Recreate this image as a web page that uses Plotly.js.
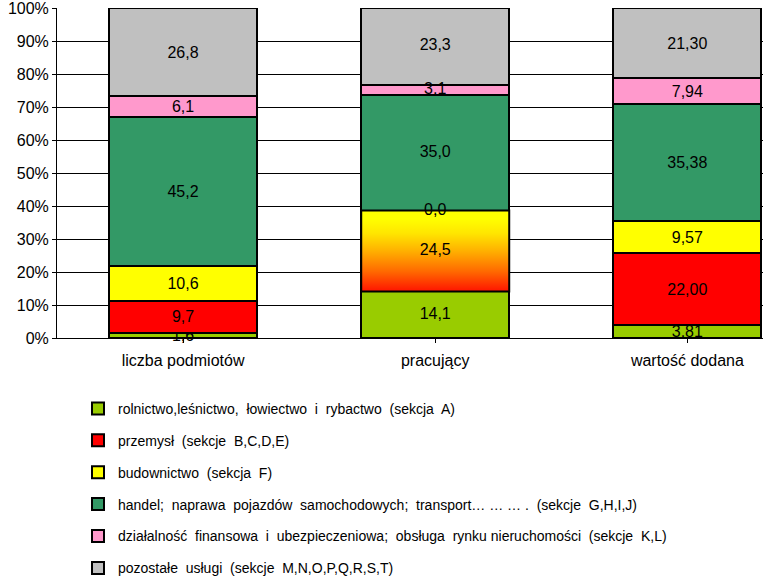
<!DOCTYPE html>
<html>
<head>
<meta charset="utf-8">
<script src="https://cdn.plot.ly/plotly-3.0.1.min.js"></script>
<style>html,body{margin:0;padding:0;background:#fff;}#chart{width:763px;height:576px;}</style>
</head>
<body>
<div id="chart"></div>
<script>
// ---- data ----
const categories = ['liczba podmiotów', 'pracujący', 'wartość dodana'];
const seriesNames = [
  'rolnictwo,leśnictwo,\u00a0 łowiectwo\u00a0 i\u00a0 rybactwo\u00a0 (sekcja\u00a0 A)',
  'przemysł\u00a0 (sekcje\u00a0 B,C,D,E)',
  'budownictwo\u00a0 (sekcja\u00a0 F)',
  'handel;\u00a0 naprawa\u00a0 pojazdów\u00a0 samochodowych;\u00a0 transport… … … .\u00a0 (sekcje\u00a0 G,H,I,J)',
  'działalność\u00a0 finansowa\u00a0 i\u00a0 ubezpieczeniowa;\u00a0 obsługa\u00a0 rynku nieruchomości\u00a0 (sekcje\u00a0 K,L)',
  'pozostałe\u00a0 usługi\u00a0 (sekcje\u00a0 M,N,O,P,Q,R,S,T)'
];
const rolnictwo   = [1.6, 14.1, 3.81];
const przemysl    = [9.7, 24.5, 22.00];
const budownictwo = [10.6, 0.0, 9.57];
const handel      = [45.2, 35.0, 35.38];
const finanse     = [6.1, 3.1, 7.94];
const pozostale   = [26.8, 23.3, 21.30];
const labelDecimals = [1, 1, 2];
const yTickValues = [0, 10, 20, 30, 40, 50, 60, 70, 80, 90, 100];

// ---- styles ----
const colors = ['#99CC00', '#FF0000', '#FFFF00', '#339966', '#FF99CC', '#C0C0C0'];
const gradientSeries = 1;      // przemysł
const gradientCategory = 1;    // pracujący (drawn with a yellow-red gradient)
const gradientScale = [[0, '#ff1400'], [0.25, '#ff6a00'], [0.5, '#ffb000'], [0.72, '#ffe600'], [0.9, '#ffff00'], [1, '#ffff00']];
const barWidth = 0.587;
const FONT = 'Arial, "Liberation Sans", sans-serif';
const labelFont = {family: FONT, size: 16, color: '#000'};

const seriesValues = [rolnictwo, przemysl, budownictwo, handel, finanse, pozostale];
const fmt = (v, c) => v.toFixed(labelDecimals[c]).replace('.', ',');

const traces = [];
seriesValues.forEach((vals, s) => {
  traces.push({
    type: 'bar',
    name: seriesNames[s],
    legendgroup: 'g' + s,
    x: categories.map((_, i) => i),
    y: vals,
    width: barWidth,
    marker: {color: colors[s], line: {color: '#000', width: 2}},
    text: vals.map((v, c) => (c === gradientCategory ? '' : fmt(v, c))),
    textposition: 'inside',
    insidetextanchor: 'middle',
    insidetextfont: labelFont,
    textangle: 0,
    hoverinfo: 'skip',
    cliponaxis: false
  });
});

// gradient overlay for the pracujący/przemysł cell, built from the data
const cum = (s, c) => seriesValues.slice(0, s).reduce((a, arr) => a + arr[c], 0);
const gBottom = cum(gradientSeries, gradientCategory);
const gTop = gBottom + seriesValues[gradientSeries][gradientCategory];
const gx0 = gradientCategory - barWidth / 2, gx1 = gradientCategory + barWidth / 2;
traces.push({
  type: 'scatter',
  mode: 'lines',
  x: [gx0, gx1, gx1, gx0, gx0],
  y: [gBottom, gBottom, gTop, gTop, gBottom],
  fill: 'toself',
  fillgradient: {type: 'vertical', colorscale: gradientScale, start: gBottom, stop: gTop},
  line: {color: '#000', width: 2},
  showlegend: false,
  hoverinfo: 'skip'
});
// labels for the pracujący column (drawn above the gradient)
const colLabelsY = [], colLabelsT = [], colLabelsX = [];
seriesValues.forEach((vals, s) => {
  const b = cum(s, gradientCategory);
  colLabelsX.push(gradientCategory);
  colLabelsY.push(b + vals[gradientCategory] / 2);
  colLabelsT.push(fmt(vals[gradientCategory], gradientCategory));
});
traces.push({
  type: 'scatter',
  mode: 'text',
  x: colLabelsX,
  y: colLabelsY,
  text: colLabelsT,
  textposition: 'middle center',
  textfont: labelFont,
  showlegend: false,
  hoverinfo: 'skip',
  cliponaxis: false
});

const layout = {
  width: 763, height: 576,
  margin: {l: 57, r: 0, t: 8, b: 238, autoexpand: false},
  paper_bgcolor: '#fff', plot_bgcolor: '#fff',
  barmode: 'stack',
  showlegend: true,
  font: {family: FONT, size: 16, color: '#000'},
  xaxis: {
    range: [-0.5, 2.3],
    tickmode: 'array',
    tickvals: categories.map((_, i) => i),
    ticktext: categories,
    tickson: 'boundaries',
    ticks: 'outside', ticklen: 4, tickcolor: '#000', tickwidth: 1,
    showline: true, linecolor: '#000', linewidth: 1,
    showgrid: false, zeroline: false,
    ticklabelstandoff: 4,
    tickfont: {size: 16}
  },
  yaxis: {
    range: [0, 100],
    tickmode: 'array',
    tickvals: yTickValues,
    ticktext: yTickValues.map(v => v + '%'),
    ticks: 'outside', ticklen: 4, tickcolor: '#000', tickwidth: 1,
    showline: true, linecolor: '#000', linewidth: 1,
    showgrid: true, gridcolor: '#000', gridwidth: 1,
    zeroline: false,
    ticklabeloverflow: 'allow',
    tickfont: {size: 16}
  },
  legend: {
    orientation: 'v',
    x: (78 - 57) / 706, xanchor: 'left',
    y: -0.166, yanchor: 'top',
    traceorder: 'grouped',
    tracegroupgap: 10.7,
    font: {family: FONT, size: 14, color: '#000'},
    bgcolor: 'rgba(0,0,0,0)'
  },
  uniformtext: {mode: 'show', minsize: 16}
};

Plotly.newPlot('chart', traces, layout, {displayModeBar: false, staticPlot: true});
</script>
</body>
</html>
